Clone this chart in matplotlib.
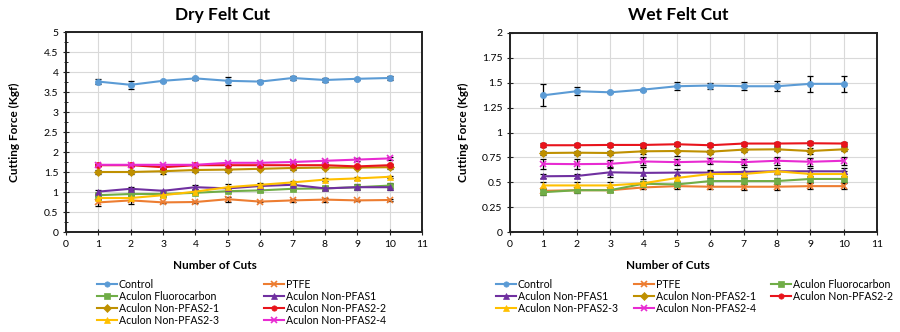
import matplotlib
matplotlib.use("Agg")
import matplotlib.pyplot as plt
from matplotlib.ticker import MultipleLocator, FuncFormatter

plt.rcParams['font.family'] = ['Lato', 'DejaVu Sans']

cuts = [1, 2, 3, 4, 5, 6, 7, 8, 9, 10]
names = ['Control', 'PTFE', 'Aculon Fluorocarbon', 'Aculon Non-PFAS1',
         'Aculon Non-PFAS2-1', 'Aculon Non-PFAS2-2', 'Aculon Non-PFAS2-3',
         'Aculon Non-PFAS2-4']
colors = ['#5B9BD5', '#ED7D31', '#70AD47', '#7030A0',
          '#BF9000', '#E8141C', '#FFC000', '#E82BD2']
markers = ['o', 'x', 's', '^', 'D', 'o', '^', 'x']

# dry felt cut (Kgf)
dry_control = [3.76, 3.68, 3.78, 3.84, 3.78, 3.76, 3.85, 3.80, 3.83, 3.85]
dry_ptfe = [0.74, 0.79, 0.74, 0.75, 0.82, 0.76, 0.79, 0.81, 0.79, 0.80]
dry_fluoro = [0.92, 0.95, 0.95, 0.98, 1.02, 1.04, 1.08, 1.09, 1.12, 1.16]
dry_pfas1 = [1.01, 1.08, 1.03, 1.12, 1.09, 1.15, 1.18, 1.09, 1.12, 1.12]
dry_pfas2_1 = [1.50, 1.50, 1.52, 1.55, 1.56, 1.58, 1.60, 1.61, 1.61, 1.62]
dry_pfas2_2 = [1.67, 1.67, 1.62, 1.67, 1.67, 1.67, 1.67, 1.67, 1.64, 1.67]
dry_pfas2_3 = [0.85, 0.85, 0.92, 1.01, 1.12, 1.18, 1.24, 1.31, 1.34, 1.38]
dry_pfas2_4 = [1.68, 1.68, 1.68, 1.68, 1.73, 1.73, 1.75, 1.78, 1.81, 1.84]

dry_control_err = [0.06, 0.10, 0.03, 0.03, 0.10, 0.03, 0.06, 0.05, 0.03, 0.05]
dry_ptfe_err = [0.08, 0.08, 0.02, 0.03, 0.06, 0.02, 0.03, 0.05, 0.02, 0.02]
dry_fluoro_err = [0.03, 0.03, 0.03, 0.03, 0.03, 0.03, 0.03, 0.03, 0.04, 0.06]
dry_pfas1_err = [0.04, 0.04, 0.03, 0.05, 0.04, 0.04, 0.04, 0.05, 0.07, 0.08]
dry_pfas2_1_err = [0.05, 0.06, 0.06, 0.05, 0.05, 0.04, 0.04, 0.04, 0.04, 0.04]
dry_pfas2_2_err = [0.03, 0.03, 0.04, 0.03, 0.03, 0.03, 0.03, 0.03, 0.03, 0.03]
dry_pfas2_3_err = [0.06, 0.06, 0.04, 0.04, 0.08, 0.04, 0.04, 0.03, 0.03, 0.03]
dry_pfas2_4_err = [0.03, 0.03, 0.03, 0.03, 0.03, 0.03, 0.03, 0.03, 0.03, 0.03]

# wet felt cut (Kgf)
wet_control = [1.374, 1.415, 1.404, 1.431, 1.465, 1.472, 1.465, 1.465, 1.489, 1.489]
wet_ptfe = [0.414, 0.42, 0.42, 0.448, 0.461, 0.455, 0.455, 0.455, 0.461, 0.461]
wet_fluoro = [0.40, 0.42, 0.42, 0.485, 0.478, 0.512, 0.512, 0.512, 0.533, 0.533]
wet_pfas1 = [0.56, 0.563, 0.60, 0.594, 0.597, 0.597, 0.604, 0.61, 0.61, 0.61]
wet_pfas2_1 = [0.794, 0.797, 0.794, 0.811, 0.814, 0.807, 0.828, 0.831, 0.814, 0.831]
wet_pfas2_2 = [0.872, 0.872, 0.875, 0.875, 0.882, 0.872, 0.889, 0.889, 0.892, 0.889]
wet_pfas2_3 = [0.468, 0.468, 0.468, 0.49, 0.543, 0.583, 0.583, 0.61, 0.583, 0.583]
wet_pfas2_4 = [0.685, 0.682, 0.685, 0.709, 0.702, 0.709, 0.702, 0.716, 0.706, 0.716]

wet_control_err = [0.11, 0.04, 0.01, 0.01, 0.04, 0.03, 0.04, 0.05, 0.08, 0.08]
wet_ptfe_err = [0.02, 0.02, 0.02, 0.02, 0.03, 0.02, 0.03, 0.03, 0.03, 0.03]
wet_fluoro_err = [0.03, 0.03, 0.02, 0.02, 0.02, 0.03, 0.03, 0.03, 0.03, 0.03]
wet_pfas1_err = [0.02, 0.02, 0.05, 0.06, 0.04, 0.03, 0.05, 0.03, 0.03, 0.03]
wet_pfas2_1_err = [0.02, 0.02, 0.02, 0.03, 0.05, 0.02, 0.02, 0.02, 0.03, 0.02]
wet_pfas2_2_err = [0.02, 0.02, 0.02, 0.02, 0.02, 0.02, 0.02, 0.02, 0.02, 0.02]
wet_pfas2_3_err = [0.03, 0.03, 0.03, 0.02, 0.03, 0.03, 0.03, 0.03, 0.03, 0.03]
wet_pfas2_4_err = [0.05, 0.05, 0.04, 0.04, 0.03, 0.03, 0.03, 0.04, 0.04, 0.04]

dry = [dry_control, dry_ptfe, dry_fluoro, dry_pfas1, dry_pfas2_1, dry_pfas2_2, dry_pfas2_3, dry_pfas2_4]
dry_err = [dry_control_err, dry_ptfe_err, dry_fluoro_err, dry_pfas1_err,
           dry_pfas2_1_err, dry_pfas2_2_err, dry_pfas2_3_err, dry_pfas2_4_err]
wet = [wet_control, wet_ptfe, wet_fluoro, wet_pfas1, wet_pfas2_1, wet_pfas2_2, wet_pfas2_3, wet_pfas2_4]
wet_err = [wet_control_err, wet_ptfe_err, wet_fluoro_err, wet_pfas1_err,
           wet_pfas2_1_err, wet_pfas2_2_err, wet_pfas2_3_err, wet_pfas2_4_err]

fig = plt.figure(figsize=(9, 3.32), dpi=100)
ax1 = fig.add_axes([66 / 900, 1 - 232 / 332, 356 / 900, 200 / 332])
ax2 = fig.add_axes([510 / 900, 1 - 232 / 332, 367 / 900, 199 / 332])

fmt = FuncFormatter(lambda v, p: '{:g}'.format(round(v, 2)))


def draw(ax, data, errs, ymax, ystep, minor):
    handles = []
    for vals, err, c, m in zip(data, errs, colors, markers):
        ax.errorbar(cuts, vals, yerr=err, fmt='none', ecolor='black',
                    elinewidth=0.9, capsize=2, capthick=0.9, zorder=2)
        h, = ax.plot(cuts, vals, color=c, marker=m, markersize=4.5,
                     markeredgewidth=1.2 if m == 'x' else 0.5, lw=1.5, zorder=3)
        handles.append(h)
    ax.set_xlim(0, 11)
    ax.set_ylim(0, ymax)
    ax.xaxis.set_major_locator(MultipleLocator(1))
    ax.yaxis.set_major_locator(MultipleLocator(ystep))
    if minor:
        ax.yaxis.set_minor_locator(MultipleLocator(minor))
    ax.yaxis.set_major_formatter(fmt)
    ax.grid(True, color='#d9d9d9', lw=0.8)
    ax.set_axisbelow(True)
    for s in ax.spines.values():
        s.set_linewidth(1.4)
        s.set_color('#222222')
    ax.tick_params(labelsize=7.5, length=4, width=0.8, direction='inout',
                   colors='#222222', labelcolor='black')
    ax.tick_params(which='minor', length=3, width=0.6, direction='inout')
    ax.set_xlabel('Number of Cuts', fontsize=8.5, fontweight='bold')
    ax.set_ylabel('Cutting Force (Kgf)', fontsize=8.5, fontweight='bold')
    return handles


h1 = draw(ax1, dry, dry_err, 5, 0.5, 0.25)
h2 = draw(ax2, wet, wet_err, 2, 0.25, None)

ax1.xaxis.set_label_coords(0.418, -0.14)
ax2.xaxis.set_label_coords(0.43, -0.14)
ax1.yaxis.set_label_coords(-0.128, 0.5)
ax2.yaxis.set_label_coords(-0.112, 0.5)

fig.text(223 / 900, 1 - 15 / 332, 'Dry Felt Cut', ha='center', va='center',
         fontsize=12.5, fontweight='bold')
fig.text(678 / 900, 1 - 15 / 332, 'Wet Felt Cut', ha='center', va='center',
         fontsize=12.5, fontweight='bold')

# legend columns, filled row by row like the original
legend_cols = [
    (h1, [0, 2, 4, 6], 97),
    (h1, [1, 3, 5, 7], 264),
    (h2, [0, 3, 6], 496),
    (h2, [1, 4, 7], 634),
    (h2, [2, 5], 771),
]
for hs, idx, x0 in legend_cols:
    fig.legend([hs[i] for i in idx], [names[i] for i in idx],
               loc='upper left', bbox_to_anchor=(x0 / 900, 1 - 279 / 332),
               frameon=False, fontsize=7.6, handlelength=1.9, handletextpad=0.15,
               labelspacing=0.1, borderpad=0, borderaxespad=0, markerscale=0.85)

fig.savefig('out.png', dpi=100)
